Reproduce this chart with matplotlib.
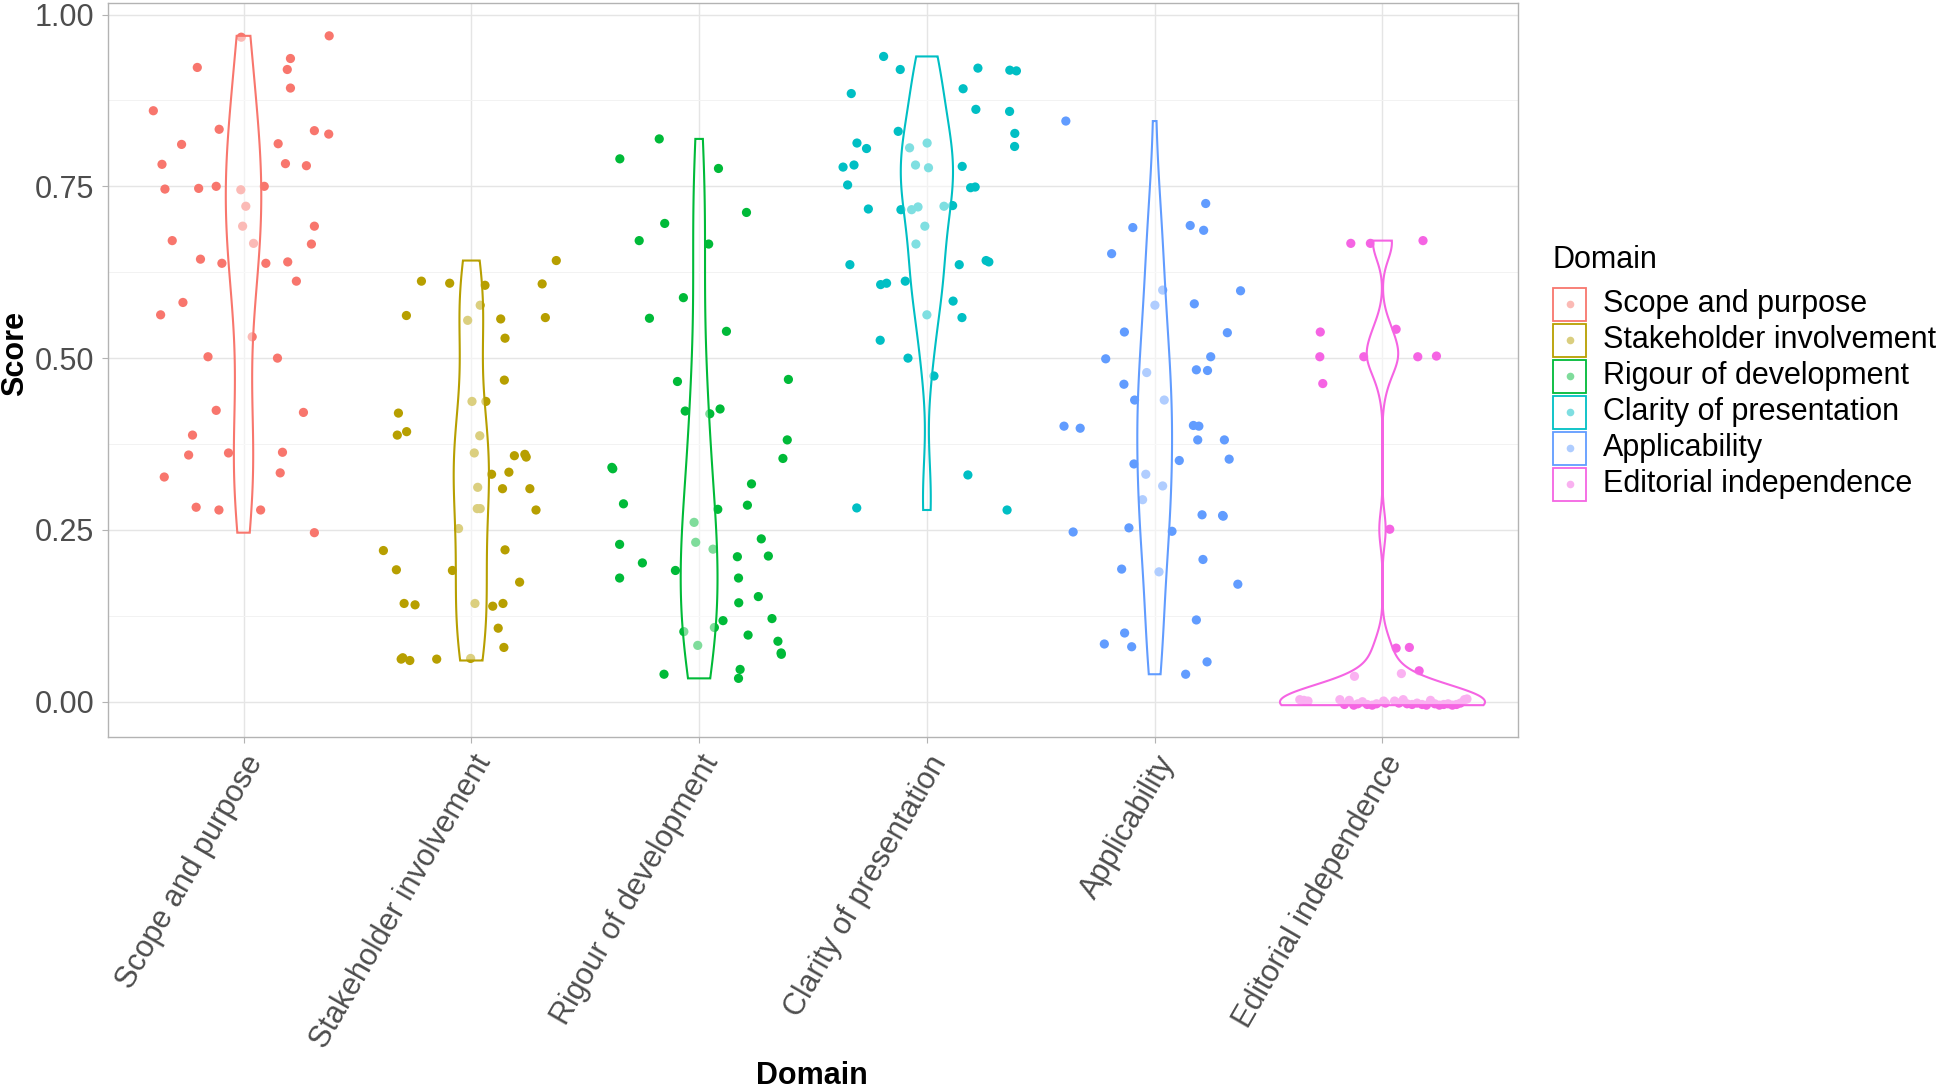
import numpy as np
import matplotlib
matplotlib.use("Agg")
import matplotlib.pyplot as plt
from matplotlib.patches import Polygon, Rectangle
from matplotlib.lines import Line2D

plt.rcParams['font.family'] = ['Liberation Sans', 'DejaVu Sans']

domains = ["Scope and purpose", "Stakeholder involvement", "Rigour of development",
           "Clarity of presentation", "Applicability", "Editorial independence"]
colors = ["#F8766D", "#B79F00", "#00BA38", "#00BFC4", "#619CFF", "#F564E3"]

scope_y = [0.967, 0.969, 0.923, 0.936, 0.920, 0.893, 0.860, 0.833, 0.811, 0.812, 0.831, 0.826,
           0.782, 0.783, 0.780, 0.746, 0.747, 0.750, 0.745, 0.750, 0.721, 0.692, 0.692, 0.671,
           0.667, 0.666, 0.644, 0.638, 0.638, 0.640, 0.612, 0.581, 0.563, 0.531, 0.502, 0.500,
           0.424, 0.421, 0.388, 0.359, 0.362, 0.363, 0.327, 0.333, 0.283, 0.279, 0.279, 0.246]
scope_dx = [-0.010, 0.376, -0.203, 0.206, 0.192, 0.206, -0.396, -0.107, -0.272, 0.152, 0.311, 0.374,
            -0.358, 0.184, 0.276, -0.345, -0.197, -0.120, -0.012, 0.091, 0.010, -0.004, 0.311, -0.313,
            0.044, 0.298, -0.189, -0.095, 0.098, 0.194, 0.232, -0.266, -0.364, 0.038, -0.156, 0.149,
            -0.120, 0.263, -0.224, -0.241, -0.066, 0.171, -0.348, 0.161, -0.208, -0.108, 0.075, 0.311]

stake_y = [0.642, 0.612, 0.609, 0.606, 0.608, 0.577, 0.562, 0.555, 0.557, 0.559, 0.529, 0.468,
           0.437, 0.437, 0.420, 0.388, 0.393, 0.387, 0.362, 0.358, 0.360, 0.356, 0.331, 0.334,
           0.312, 0.310, 0.310, 0.281, 0.281, 0.279, 0.252, 0.220, 0.221, 0.192, 0.191, 0.174,
           0.143, 0.141, 0.143, 0.139, 0.143, 0.107, 0.079, 0.062, 0.064, 0.060, 0.062, 0.063]
stake_dx = [0.373, -0.219, -0.095, 0.060, 0.311, 0.039, -0.285, -0.016, 0.129, 0.325, 0.148, 0.145,
            0.003, 0.064, -0.320, -0.325, -0.284, 0.037, 0.013, 0.189, 0.235, 0.241, 0.089, 0.165,
            0.028, 0.137, 0.257, 0.039, 0.026, 0.284, -0.056, -0.386, 0.148, -0.329, -0.083, 0.212,
            -0.295, -0.247, 0.016, 0.094, 0.139, 0.118, 0.143, -0.308, -0.301, -0.270, -0.152, -0.003]

rigour_y = [0.819, 0.790, 0.776, 0.712, 0.696, 0.671, 0.666, 0.588, 0.558, 0.539, 0.466, 0.469,
            0.423, 0.419, 0.426, 0.381, 0.341, 0.339, 0.354, 0.317, 0.288, 0.286, 0.280, 0.261,
            0.232, 0.222, 0.237, 0.229, 0.202, 0.191, 0.211, 0.212, 0.180, 0.180, 0.144, 0.153,
            0.118, 0.108, 0.102, 0.121, 0.097, 0.082, 0.088, 0.071, 0.069, 0.040, 0.047, 0.034]
rigour_dx = [-0.175, -0.348, 0.085, 0.208, -0.151, -0.263, 0.042, -0.069, -0.218, 0.120, -0.095, 0.392,
             -0.061, 0.047, 0.092, 0.387, -0.383, -0.379, 0.368, 0.230, -0.332, 0.212, 0.082, -0.022,
             -0.015, 0.061, 0.273, -0.349, -0.249, -0.104, 0.168, 0.304, -0.349, 0.173, 0.174, 0.260,
             0.105, 0.067, -0.067, 0.320, 0.215, -0.006, 0.346, 0.360, 0.361, -0.154, 0.180, 0.173]

clarity_y = [0.939, 0.920, 0.922, 0.919, 0.918, 0.885, 0.892, 0.862, 0.859, 0.830, 0.827, 0.813,
             0.813, 0.805, 0.806, 0.808, 0.778, 0.781, 0.781, 0.777, 0.779, 0.752, 0.748, 0.749,
             0.717, 0.716, 0.716, 0.720, 0.721, 0.722, 0.692, 0.666, 0.636, 0.636, 0.642, 0.640,
             0.607, 0.609, 0.612, 0.583, 0.563, 0.559, 0.526, 0.500, 0.474, 0.330, 0.282, 0.279]
clarity_dx = [-0.190, -0.117, 0.224, 0.364, 0.393, -0.332, 0.159, 0.215, 0.363, -0.126, 0.386, 0.001,
              -0.307, -0.265, -0.076, 0.385, -0.368, -0.320, -0.050, 0.007, 0.155, -0.348, 0.192, 0.212,
              -0.257, -0.114, -0.067, -0.039, 0.075, 0.113, -0.009, -0.048, -0.338, 0.142, 0.260, 0.272,
              -0.203, -0.177, -0.095, 0.115, 0.000, 0.154, -0.205, -0.083, 0.031, 0.180, -0.308, 0.352]

applic_y = [0.845, 0.725, 0.690, 0.693, 0.686, 0.652, 0.599, 0.598, 0.577, 0.579, 0.538, 0.537,
            0.499, 0.502, 0.479, 0.483, 0.482, 0.462, 0.439, 0.439, 0.401, 0.398, 0.402, 0.401,
            0.381, 0.381, 0.346, 0.351, 0.353, 0.331, 0.314, 0.294, 0.272, 0.271, 0.270, 0.247,
            0.253, 0.248, 0.207, 0.193, 0.189, 0.171, 0.119, 0.100, 0.084, 0.080, 0.058, 0.040]
applic_dx = [-0.390, 0.224, -0.096, 0.156, 0.215, -0.189, 0.035, 0.377, 0.001, 0.174, -0.133, 0.319,
             -0.215, 0.246, -0.035, 0.183, 0.232, -0.135, -0.088, 0.042, -0.398, -0.327, 0.170, 0.194,
             0.189, 0.306, -0.091, 0.108, 0.327, -0.039, 0.035, -0.053, 0.208, 0.298, 0.301, -0.358,
             -0.113, 0.076, 0.212, -0.145, 0.019, 0.365, 0.183, -0.132, -0.221, -0.101, 0.230, 0.136]

editorial_y = [0.667, 0.667, 0.671, 0.538, 0.542, 0.502, 0.502, 0.502, 0.503, 0.463, 0.251, 0.078,
               0.079, 0.045, 0.037, 0.041,
               0.003, 0.002, 0.001, 0.003, -0.004, 0.002, -0.005, -0.003, 0.000, -0.004, -0.005, -0.003,
               -0.002, 0.001, -0.002, 0.003, -0.003, -0.004, -0.002, -0.004, -0.005, 0.002, -0.003, -0.005,
               -0.004, -0.003, -0.005, -0.004, -0.002, 0.003, 0.004, 0.001]
editorial_dx = [-0.139, -0.053, 0.178, -0.273, 0.060, -0.275, -0.082, 0.155, 0.237, -0.262, 0.032, 0.060,
                0.118, 0.161, -0.123, 0.083,
                -0.363, -0.345, -0.327, -0.187, -0.167, -0.146, -0.126, -0.108, -0.088, -0.067, -0.045, -0.026,
                0.013, 0.053, 0.072, 0.091, 0.108, 0.130, 0.152, 0.174, 0.193, 0.211, 0.230, 0.250,
                0.269, 0.288, 0.307, 0.325, 0.342, 0.360, 0.371, 0.005]

all_y = [scope_y, stake_y, rigour_y, clarity_y, applic_y, editorial_y]
all_dx = [scope_dx, stake_dx, rigour_dx, clarity_dx, applic_dx, editorial_dx]

FS = 22
W, H = 1944, 1088
fig = plt.figure(figsize=(W / 100, H / 100), dpi=100)
ax = fig.add_axes([108 / W, 1 - 736.5 / H, (1518 - 108) / W, (736.5 - 2.5) / H])


def nrd0(x):
    x = np.asarray(x, float)
    hi = np.std(x, ddof=1)
    q75, q25 = np.percentile(x, [75, 25])
    lo = min(hi, (q75 - q25) / 1.34)
    if lo == 0:
        lo = hi if hi else 1.0
    return 0.9 * lo * len(x) ** -0.2


def kde(x, grid):
    x = np.asarray(x, float)
    bw = nrd0(x)
    z = (grid[:, None] - x[None, :]) / bw
    return np.exp(-0.5 * z ** 2).sum(1) / (len(x) * bw * np.sqrt(2 * np.pi))


# jittered points
for i, (ys, dxs) in enumerate(zip(all_y, all_dx)):
    xs = (i + 1) + np.asarray(dxs)
    ax.scatter(xs, ys, s=44, color=colors[i], edgecolors='none', zorder=2)

# violins (area scaling, trimmed)
dens = []
for ys in all_y:
    g = np.linspace(min(ys), max(ys), 512)
    dens.append((g, kde(ys, g)))
maxd = max(d.max() for _, d in dens)
for i, (g, d) in enumerate(dens):
    hw = 0.45 * d / maxd
    px = np.concatenate([(i + 1) - hw, ((i + 1) + hw)[::-1]])
    py = np.concatenate([g, g[::-1]])
    ax.add_patch(Polygon(np.column_stack([px, py]), closed=True,
                         facecolor=(1, 1, 1, 0.5), edgecolor=colors[i], lw=1.5, zorder=3))

ax.set_xlim(0.405, 6.595)
ax.set_ylim(-0.0506, 1.0175)
ax.set_xticks(range(1, 7))
ax.set_xticklabels(domains, rotation=60, ha='right', va='top', rotation_mode='anchor',
                   fontsize=FS, color='#4D4D4D')
ax.set_yticks([0, 0.25, 0.5, 0.75, 1.0])
ax.set_yticklabels(["0.00", "0.25", "0.50", "0.75", "1.00"], fontsize=FS, color='#4D4D4D')
ax.set_yticks([0.125, 0.375, 0.625, 0.875], minor=True)
ax.tick_params(axis='both', which='major', length=4, width=0.8, color='#B3B3B3', pad=6)
ax.tick_params(axis='y', which='minor', length=0)
ax.grid(which='major', color='#E5E5E5', lw=1.0)
ax.grid(which='minor', axis='y', color='#F2F2F2', lw=0.7)
ax.set_axisbelow(True)
for s in ax.spines.values():
    s.set_color('#B3B3B3')
    s.set_linewidth(1.0)

# axis titles
fig.text(15 / W, 1 - 353 / H, "Score", rotation=90, ha='center', va='center',
         fontsize=FS, fontweight='bold', color='black')
fig.text(812 / W, 1 - 1076 / H, "Domain", ha='center', va='center',
         fontsize=FS, fontweight='bold', color='black')

# legend (manual)
fig.text(1552 / W, 1 - 260 / H, "Domain", ha='left', va='center', fontsize=FS, color='black')
for i, lab in enumerate(domains):
    c = 304 + 36 * i
    bx, by, bs = 1553, c - 16.5, 33
    fig.add_artist(Rectangle((bx / W, 1 - (by + bs) / H), bs / W, bs / H,
                             transform=fig.transFigure, facecolor='white',
                             edgecolor=colors[i], lw=1.3))
    fig.add_artist(Line2D([(bx + bs / 2) / W], [1 - c / H], transform=fig.transFigure,
                          marker='o', markersize=5.5, color=colors[i], alpha=0.5,
                          markeredgewidth=0, linestyle='none'))
    fig.text(1603 / W, 1 - c / H, lab, ha='left', va='center', fontsize=FS, color='black')

fig.savefig("out.png", dpi=100, facecolor='white')
